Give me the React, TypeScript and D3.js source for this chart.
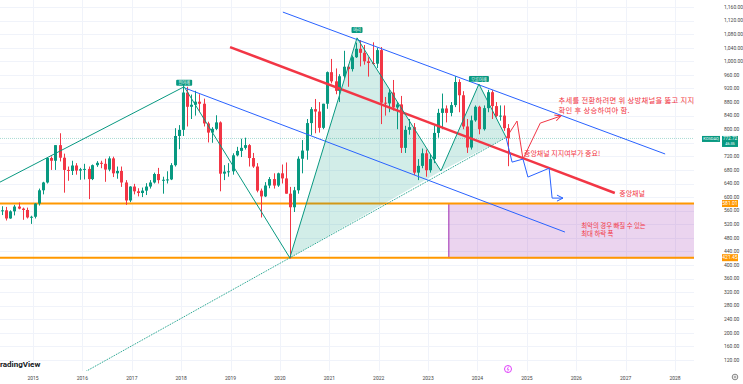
import React from 'react';
import * as d3 from 'd3';

// KOSDAQ monthly candles, May 2014 - Aug 2024
const firstMonth = new Date(2014, 4, 1);
const opens = [
  560, 561, 537, 558, 572, 566, 562, 540,
  542, 581, 620, 643, 715, 707, 753, 716, 680, 677, 693, 678,
  682, 683, 653, 694, 701, 698, 681, 714, 670, 677, 643, 590,
  631, 617, 612, 619, 631, 643, 668, 650, 651, 652, 694, 780,
  798, 908, 866, 872, 881, 875, 817, 790, 801, 820, 669, 675,
  676, 723, 736, 745, 753, 715, 690, 619, 602, 634, 653, 634,
  670, 655, 610, 570, 620, 713, 737, 818, 859, 852, 804, 875,
  968, 941, 913, 956, 984, 977, 1012, 1037, 1025, 1000, 995, 993,
  1033, 878, 876, 908, 864, 873, 745, 798, 806, 672, 692, 729,
  679, 712, 789, 848, 861, 848, 871, 939, 900, 808, 746, 826,
  866, 800, 862, 909, 868, 839, 840, 803,
];
const highs = [
  573, 571, 561, 577, 584, 569, 569, 545,
  582, 625, 645, 718, 720, 753, 788, 728, 690, 707, 700, 686,
  698, 690, 696, 706, 707, 713, 720, 719, 690, 690, 650, 632,
  639, 626, 628, 641, 650, 672, 686, 660, 676, 700, 803, 812,
  932, 925, 902, 913, 903, 890, 822, 806, 841, 823, 694, 700,
  729, 748, 772, 775, 756, 730, 700, 625, 644, 659, 670, 672,
  696, 702, 630, 630, 720, 768, 830, 865, 889, 880, 875, 970,
  1007, 979, 962, 1031, 990, 1017, 1055, 1062, 1048, 1012, 1056, 1040,
  1042, 895, 918, 945, 880, 898, 810, 830, 818, 712, 743, 740,
  725, 810, 860, 905, 870, 880, 956, 947, 912, 830, 840, 870,
  869, 870, 916, 915, 880, 870, 870, 815,
];
const lows = [
  547, 531, 536, 546, 564, 533, 537, 521,
  537, 575, 608, 640, 680, 680, 705, 613, 648, 665, 666, 651,
  652, 594, 650, 689, 685, 645, 676, 659, 654, 630, 577, 585,
  608, 602, 600, 606, 625, 640, 640, 610, 640, 650, 690, 741,
  780, 808, 830, 840, 850, 808, 761, 760, 797, 617, 650, 660,
  666, 720, 718, 740, 690, 686, 614, 540, 600, 626, 625, 630,
  640, 610, 419, 556, 610, 670, 710, 782, 788, 790, 800, 860,
  935, 903, 880, 950, 925, 970, 1010, 985, 990, 955, 990, 980,
  815, 840, 850, 855, 800, 730, 730, 784, 665, 650, 685, 660,
  672, 700, 775, 800, 820, 838, 865, 850, 800, 730, 740, 822,
  785, 796, 850, 830, 835, 825, 795, 691,
];
const closes = [
  561, 537, 558, 572, 566, 562, 540, 542,
  581, 620, 643, 715, 707, 753, 716, 680, 677, 693, 678, 682,
  683, 653, 694, 701, 698, 681, 714, 670, 677, 643, 590, 631,
  617, 612, 619, 631, 643, 668, 650, 651, 652, 694, 780, 798,
  908, 866, 872, 881, 875, 817, 790, 801, 820, 669, 675, 676,
  723, 736, 745, 753, 715, 690, 619, 602, 634, 653, 634, 670,
  655, 610, 570, 620, 713, 737, 818, 859, 852, 804, 875, 968,
  941, 913, 956, 984, 977, 1012, 1037, 1025, 1000, 995, 993, 1033,
  878, 876, 908, 864, 873, 745, 798, 806, 672, 692, 729, 679,
  712, 789, 848, 861, 848, 871, 939, 900, 808, 746, 826, 866,
  800, 862, 909, 868, 839, 840, 803, 773,
];

const lastPrice = 772.72;
const priceTicks = [120, 160, 200, 240, 280, 320, 360, 400, 440, 480, 520, 560, 600, 640, 680,
  720, 760, 800, 840, 880, 920, 960, 1000, 1040, 1080, 1120, 1160];
const yearTicks = [2015, 2016, 2017, 2018, 2019, 2020, 2021, 2022, 2023, 2024, 2025, 2026, 2027, 2028];

// drawings (decimal year, price)
const hsYears = [2014.33, 2018.06, 2020.2, 2021.56, 2023.26, 2024.03, 2024.58];
const hsPrices = [644, 925, 421, 1069, 677, 933, 776];
const upperYears = [2020.06, 2027.8];
const upperPrices = [1145, 727];
const lowerYears = [2018.08, 2025.77];
const lowerPrices = [921, 497];
const midYears = [2018.99, 2026.78];
const midPrices = [1042, 612];
const upYears = [2024.58, 2024.8, 2024.92, 2025.27, 2025.69];
const upPrices = [774, 824, 712, 818, 839];
const downYears = [2024.58, 2024.7, 2024.92, 2025.02, 2025.45, 2025.51, 2025.73];
const downPrices = [774, 703, 712, 659, 685, 597, 597];
const supportLevels = [581.01, 421.45];
const boxStartYear = 2023.42;

const W = 743;
const H = 384;
const plotRight = 694;
const plotBottom = 371;

const up = '#089981';
const down = '#f23645';
const kr = '"Noto Sans CJK KR", "Noto Sans", sans-serif';
const num = 'Roboto, "Noto Sans", sans-serif';

const dt = (v: number) => {
  const yr = Math.floor(v);
  const a = new Date(yr, 0, 1).getTime();
  const b = new Date(yr + 1, 0, 1).getTime();
  return new Date(a + (v - yr) * (b - a));
};

const App: React.FC = () => {
  const x = d3.scaleTime().domain([new Date(2015, 0, 1), new Date(2028, 0, 1)]).range([33, 675]);
  const y = d3.scaleLinear().domain([120, 1160]).range([360, 7]);
  const px = (yr: number) => x(dt(yr));

  const months = d3.timeMonth.range(firstMonth, d3.timeMonth.offset(firstMonth, closes.length));
  const line = d3.line<[number, number]>().x(d => d[0]).y(d => d[1]);
  const pts = (ys: number[], ps: number[]) => ys.map((v, i) => [px(v), y(ps[i])] as [number, number]);

  const hs = pts(hsYears, hsPrices);
  const [, , t1, , , , hsEnd] = hs;
  const slope = (hsEnd[1] - t1[1]) / (hsEnd[0] - t1[0]);
  const neckStart: [number, number] = [-50, t1[1] + slope * (-50 - t1[0])];
  const fmt = d3.format(',.2f');
  const lastY = y(lastPrice);

  const labels = [
    { text: '왼어깨', i: 1, w: 16, dy: -1 },
    { text: '머리', i: 3, w: 11, dy: -5 },
    { text: '오른어깨', i: 5, w: 20, dy: -2 },
  ];

  return (
    <svg width={W} height={H} style={{ position: 'absolute', left: 0, top: 0, background: '#fff' }}>
      <defs>
        <clipPath id="plot">
          <rect x={0} y={0} width={plotRight} height={plotBottom} />
        </clipPath>
        <marker id="arrRed" viewBox="0 0 8 8" refX="7" refY="4" markerWidth="8" markerHeight="8"
          markerUnits="userSpaceOnUse" orient="auto">
          <path d="M1,1 L7,4 L1,7" fill="none" stroke={down} strokeWidth={1} />
        </marker>
        <marker id="arrBlue" viewBox="0 0 8 8" refX="7" refY="4" markerWidth="8" markerHeight="8"
          markerUnits="userSpaceOnUse" orient="auto">
          <path d="M1,1 L7,4 L1,7" fill="none" stroke="#2962ff" strokeWidth={1} />
        </marker>
      </defs>

      {/* grid */}
      <g stroke="#f0f3fa" strokeWidth={1}>
        {priceTicks.map(t => (
          <line key={t} x1={0} x2={plotRight} y1={Math.round(y(t)) + 0.5} y2={Math.round(y(t)) + 0.5} />
        ))}
        {yearTicks.map(t => (
          <line key={t} x1={Math.round(px(t)) + 0.5} x2={Math.round(px(t)) + 0.5} y1={0} y2={plotBottom} />
        ))}
      </g>

      <g clipPath="url(#plot)">
        {/* worst case box */}
        <rect x={px(boxStartYear)} y={y(supportLevels[0])} width={plotRight - px(boxStartYear) + 2}
          height={y(supportLevels[1]) - y(supportLevels[0])} fill="rgba(156,39,176,0.2)" stroke="#9c27b0" strokeWidth={1} />
        {supportLevels.map(v => (
          <line key={v} x1={0} x2={plotRight} y1={y(v)} y2={y(v)} stroke="#ff9800" strokeWidth={2} />
        ))}

        {/* last price line */}
        <line x1={0} x2={plotRight} y1={lastY} y2={lastY} stroke={up} strokeOpacity={0.35}
          strokeDasharray="1,1" />

        {/* head & shoulders fills */}
        <path d={line([hs[2], hs[3], hs[4]])! + 'Z'} fill="rgba(8,153,129,0.18)" />
        <path d={line([hs[4], hs[5], hs[6]])! + 'Z'} fill="rgba(8,153,129,0.18)" />

        {/* candles */}
        {months.map((m, i) => {
          const cx = Math.round(x(d3.timeDay.offset(m, 15)));
          const c = closes[i] >= opens[i] ? up : down;
          const top = y(Math.max(opens[i], closes[i]));
          const bot = y(Math.min(opens[i], closes[i]));
          return (
            <g key={i}>
              <line x1={cx + 0.5} x2={cx + 0.5} y1={y(highs[i])} y2={y(lows[i])} stroke={c} strokeWidth={1} />
              <rect x={cx - 1} y={top} width={3} height={Math.max(1, bot - top)} fill={c} />
            </g>
          );
        })}

        {/* channels */}
        <path d={line(pts(upperYears, upperPrices))!} stroke="#2962ff" strokeWidth={1} fill="none" />
        <path d={line(pts(lowerYears, lowerPrices))!} stroke="#2962ff" strokeWidth={1} fill="none" />
        <path d={line(pts(midYears, midPrices))!} stroke={down} strokeWidth={2.5} fill="none" />

        {/* head & shoulders */}
        <path d={line(hs)!} stroke={up} strokeWidth={1} fill="none" />
        <path d={line([neckStart, hsEnd])!} stroke={up} strokeWidth={1} strokeDasharray="1,1" fill="none" />

        {/* scenarios */}
        <path d={line(pts(upYears, upPrices))!} stroke={down} strokeWidth={1} fill="none" markerEnd="url(#arrRed)" />
        <path d={line(pts(downYears, downPrices))!} stroke="#2962ff" strokeWidth={1} fill="none"
          markerEnd="url(#arrBlue)" />

        {/* notes */}
        <g fill={down} fontFamily={kr}>
          <text x={px(2025.64)} y={y(877)} fontSize={7.3} letterSpacing={0.3}>추세를 전환하려면 위 상방채널을 뚫고 지지</text>
          <text x={px(2025.64)} y={y(848)} fontSize={7.3} letterSpacing={0.3}>확인 후 상승하여야 함.</text>
          <text x={px(2024.94)} y={y(721)} fontSize={7}>중앙채널 지지여부가 중요!</text>
          <text x={px(2026.87)} y={y(603)} fontSize={7}>중앙채널</text>
          <text x={px(2026.1)} y={y(510)} fontSize={6.4}>최악의 경우 빠질 수 있는</text>
          <text x={px(2026.1)} y={y(486)} fontSize={6.4}>최대 하락 폭</text>
        </g>

        {labels.map(l => {
          const [lx, ly] = hs[l.i];
          return (
            <g key={l.text}>
              <rect x={lx - l.w / 2} y={ly + l.dy - 6} width={l.w} height={6} rx={1} fill={up} />
              <text x={lx} y={ly + l.dy - 1.5} fill="#fff" fontSize={4.2} fontFamily={kr} textAnchor="middle">
                {l.text}
              </text>
            </g>
          );
        })}
      </g>

      {/* price axis */}
      <g fontFamily={num} fontSize={5} fill="#444">
        {priceTicks.filter(t => Math.abs(y(t) - lastY - 3) > 7).map(t => (
          <text key={t} x={724} y={y(t) + 1.8}>{fmt(t)}</text>
        ))}
      </g>
      {supportLevels.map(v => (
        <g key={v}>
          <rect x={722} y={y(v) - 3.5} width={16} height={7} fill="#ff9800" />
          <text x={730} y={y(v) + 1.8} fill="#fff" fontSize={5} fontFamily={num} textAnchor="middle">{v.toFixed(2)}</text>
        </g>
      ))}
      <g>
        <rect x={702} y={lastY - 2.5} width={18} height={6} fill={up} />
        <text x={711} y={lastY + 1.8} fill="#fff" fontSize={4} fontFamily={num} textAnchor="middle">KOSDAQ</text>
        <rect x={722} y={lastY - 2.5} width={16} height={11} fill={up} />
        <text x={730} y={lastY + 1.8} fill="#fff" fontSize={4.6} fontFamily={num} textAnchor="middle">
          {lastPrice.toFixed(2)}
        </text>
        <text x={730} y={lastY + 7} fill="#fff" fontSize={3.8} fontFamily={num} textAnchor="middle">46:35</text>
      </g>

      {/* time axis */}
      <g fontFamily={num} fontSize={5} fill="#444" textAnchor="middle">
        {yearTicks.map(t => (
          <text key={t} x={px(t)} y={380}>{t}</text>
        ))}
      </g>

      {/* chrome */}
      <text x={0} y={367} fontFamily={num} fontWeight="bold" fontSize={8} fill="#131722">radingView</text>
      <circle cx={508} cy={369} r={3.5} fill="#fff" stroke="#e040fb" strokeWidth={1} />
      <path d="M508.8,366.5 L507,369.3 L509,369.3 L507.4,371.6" fill="none" stroke="#e040fb" strokeWidth={0.7} />
      <circle cx={735} cy={377} r={2.8} fill="none" stroke="#666" strokeWidth={0.8} />
      <circle cx={735} cy={377} r={1} fill="none" stroke="#666" strokeWidth={0.6} />
    </svg>
  );
};

export default App;
